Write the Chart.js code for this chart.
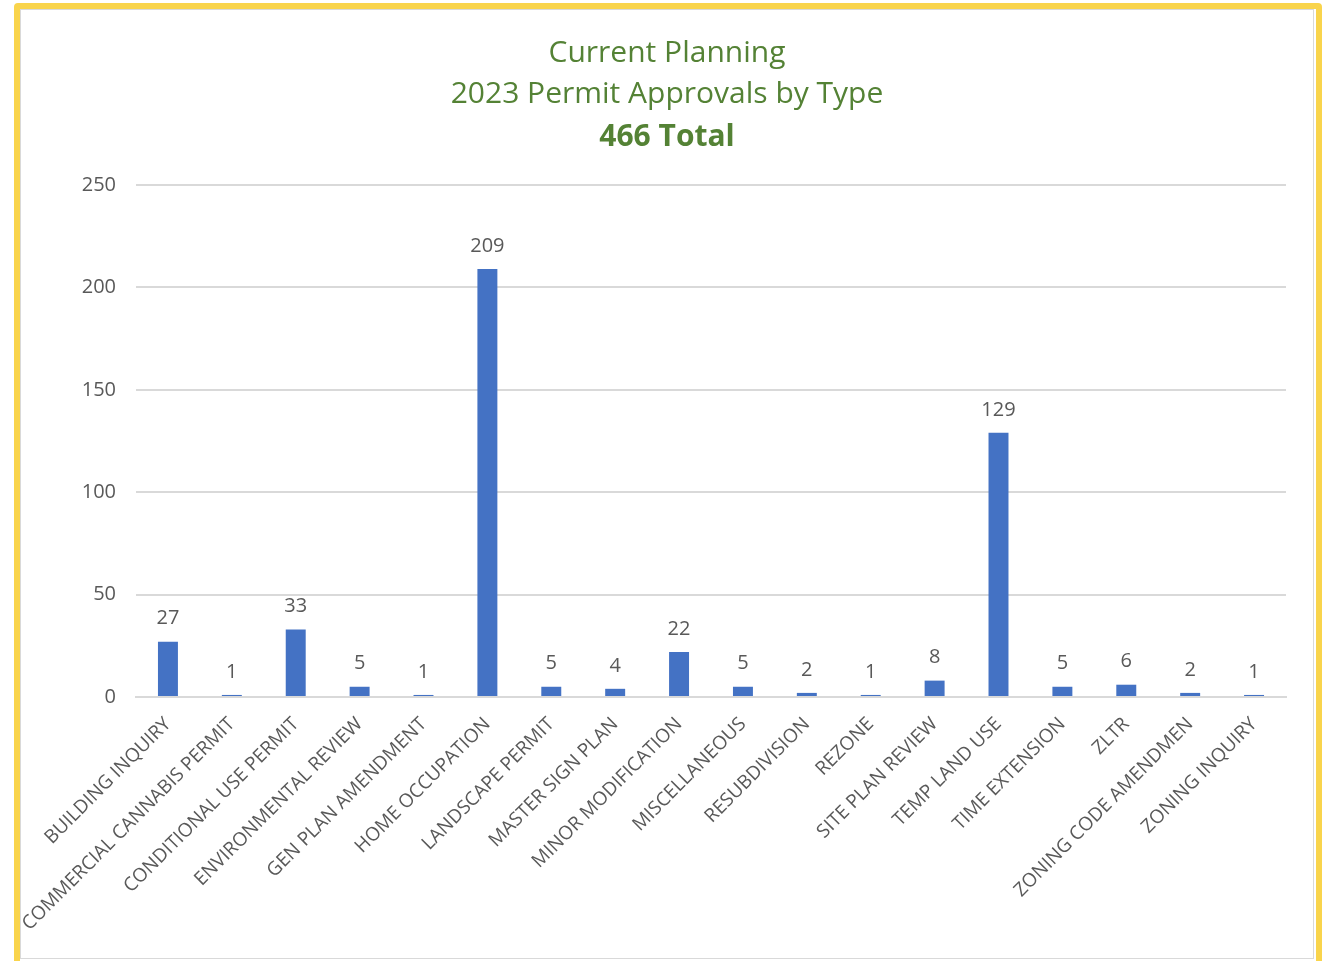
<!DOCTYPE html>
<html>
<head>
<meta charset="utf-8">
<script src="https://cdn.jsdelivr.net/npm/chart.js@4"></script>
<style>
  html, body { margin: 0; padding: 0; background: #ffffff; width: 1327px; height: 961px; overflow: hidden; }
  #frame { position: absolute; left: 14px; top: 3px; width: 1308px; height: 975px; box-sizing: border-box;
           border: 6px solid #F9D44C; border-radius: 4px; background: #ffffff; }
  #inner { position: absolute; left: 0; top: 0; width: 1294px; height: 950px; box-sizing: border-box;
           border: 1px solid #D9D9D9; overflow: hidden; background: #ffffff; }
  #wrap { position: absolute; left: 0; top: 0; width: 1292px; height: 948px; }
</style>
</head>
<body>
<div id="frame"><div id="inner"><div id="wrap"><canvas id="c"></canvas></div></div></div>
<script>
const titleLines = ["Current Planning", "2023 Permit Approvals by Type"];
const subtitleText = "466 Total";
const categories = [
  "BUILDING INQUIRY", "COMMERCIAL CANNABIS PERMIT", "CONDITIONAL USE PERMIT", "ENVIRONMENTAL REVIEW",
  "GEN PLAN AMENDMENT", "HOME OCCUPATION", "LANDSCAPE PERMIT", "MASTER SIGN PLAN", "MINOR MODIFICATION",
  "MISCELLANEOUS", "RESUBDIVISION", "REZONE", "SITE PLAN REVIEW", "TEMP LAND USE", "TIME EXTENSION",
  "ZLTR", "ZONING CODE AMENDMEN", "ZONING INQUIRY"
];
const approvals = [27, 1, 33, 5, 1, 209, 5, 4, 22, 5, 2, 1, 8, 129, 5, 6, 2, 1];
const yTicks = [0, 50, 100, 150, 200, 250];

const FONT = "'Open Sans', 'Liberation Sans', sans-serif";
const GREEN = "#548235";
const GRAY_TEXT = "#595959";

const valueLabels = {
  id: 'valueLabels',
  afterDatasetsDraw(chart) {
    const ctx = chart.ctx;
    const meta = chart.getDatasetMeta(0);
    ctx.save();
    ctx.font = "20px " + FONT;
    ctx.fillStyle = GRAY_TEXT;
    ctx.textAlign = 'center';
    ctx.textBaseline = 'middle';
    meta.data.forEach((bar, i) => {
      ctx.fillText(String(chart.data.datasets[0].data[i]), bar.x, bar.y - 23);
    });
    ctx.restore();
  }
};

new Chart(document.getElementById('c'), {
  type: 'bar',
  data: {
    labels: categories,
    datasets: [{
      data: approvals,
      backgroundColor: '#4472C4',
      borderWidth: 0,
      barPercentage: 0.625,
      categoryPercentage: 0.5
    }]
  },
  options: {
    responsive: true,
    maintainAspectRatio: false,
    animation: false,
    layout: { padding: { left: 0, right: 0, top: 0, bottom: 0 } },
    plugins: {
      legend: { display: false },
      tooltip: { enabled: false },
      title: {
        display: true,
        text: titleLines,
        color: GREEN,
        font: { family: FONT, size: 30, weight: 'normal', lineHeight: 41 / 30 },
        padding: { top: 23, bottom: 2 }
      },
      subtitle: {
        display: true,
        text: subtitleText,
        color: GREEN,
        font: { family: FONT, size: 30, weight: 'bold', lineHeight: 41 / 30 },
        padding: { top: 0, bottom: 27 }
      }
    },
    scales: {
      x: {
        grid: { display: false, drawTicks: false },
        border: { display: true, color: '#D9D9D9', width: 2 },
        ticks: {
          color: GRAY_TEXT,
          font: { family: FONT, size: 19 },
          minRotation: 45,
          maxRotation: 45,
          autoSkip: false,
          padding: 16
        },
        afterFit(scale) {
          scale.height = 261;
          scale.paddingLeft = 0;
          scale.paddingRight = 0;
        }
      },
      y: {
        min: 0,
        max: 250,
        afterBuildTicks(scale) { scale.ticks = yTicks.map(v => ({ value: v })); },
        grid: { color: '#D9D9D9', lineWidth: 2, drawTicks: false },
        border: { display: false },
        ticks: {
          color: GRAY_TEXT,
          font: { family: FONT, size: 20 },
          padding: 20
        },
        afterFit(scale) {
          scale.width = 115;
          scale.paddingTop = 0;
          scale.paddingBottom = 0;
        }
      },
      rightGap: {
        type: 'linear',
        position: 'right',
        display: true,
        grid: { display: false, drawTicks: false },
        border: { display: false },
        ticks: { display: false },
        afterFit(scale) {
          scale.width = 27;
          scale.paddingTop = 0;
          scale.paddingBottom = 0;
        }
      }
    }
  },
  plugins: [valueLabels]
});
</script>
</body>
</html>
